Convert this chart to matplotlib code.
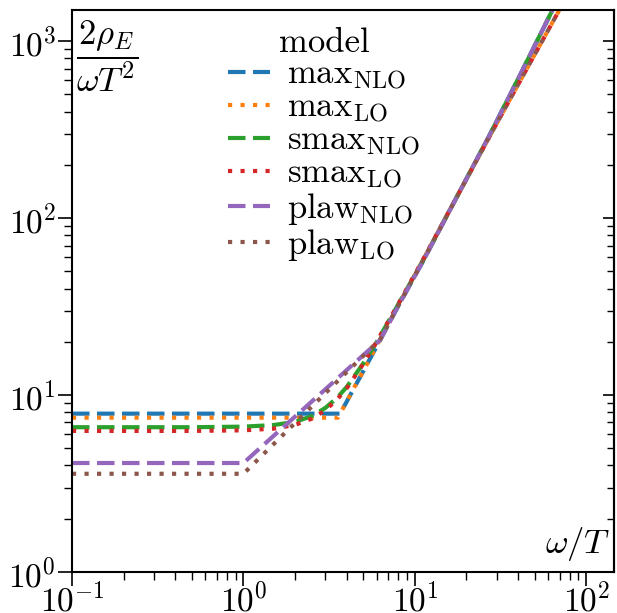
import matplotlib
matplotlib.use("Agg")
import matplotlib.pyplot as plt

plt.rcParams['font.family'] = ['cmr10', 'DejaVu Serif']
plt.rcParams['mathtext.fontset'] = 'cm'
plt.rcParams['axes.formatter.use_mathtext'] = True
plt.rcParams['axes.unicode_minus'] = True

# ---- data ----
omega_max_nlo = [0.1, 3.66, 4, 5, 6, 8, 11.2, 16, 27.4, 40, 63.7, 100]
rho_max_nlo = [7.85, 7.85, 9.17, 13.65, 18.9, 31.9, 57.5, 111, 297, 612, 1510, 3640]

omega_max_lo = [0.1, 3.56, 4, 5, 6, 8, 11.2, 16, 27.4, 40, 63.7, 100]
rho_max_lo = [7.45, 7.45, 9.2, 13.7, 19.1, 32.1, 58.4, 111.4, 292, 569, 1285, 2830]

omega_smax = [0.1, 0.5, 1, 1.5, 2, 2.5, 3, 3.5, 4, 5, 6, 8, 11.2, 16, 27.4, 40, 63.7, 100]
rho_smax_nlo = [6.58, 6.58, 6.63, 6.77, 7.05, 7.6, 8.45, 9.6, 11.1, 15.1, 20.0, 32.6, 57.9, 111.2, 297, 612, 1510, 3640]
rho_smax_lo = [6.27, 6.27, 6.32, 6.46, 6.78, 7.35, 8.2, 9.4, 10.9, 15.0, 20.1, 32.7, 58.7, 111.6, 292, 569, 1285, 2830]

omega_plaw = [0.1, 1, 6.28, 8, 11.2, 16, 27.4, 40, 63.7, 100]
rho_plaw_nlo = [4.13, 4.13, 20.5, 31.9, 57.5, 111, 297, 612, 1510, 3640]
rho_plaw_lo = [3.59, 3.59, 20.7, 32.1, 58.4, 111.4, 292, 569, 1285, 2830]

labels = [r'$\mathrm{max}_\mathrm{NLO}$', r'$\mathrm{max}_\mathrm{LO}$',
          r'$\mathrm{smax}_\mathrm{NLO}$', r'$\mathrm{smax}_\mathrm{LO}$',
          r'$\mathrm{plaw}_\mathrm{NLO}$', r'$\mathrm{plaw}_\mathrm{LO}$']
colors = ['#1f77b4', '#ff7f0e', '#2ca02c', '#d62728', '#9467bd', '#8c564b']

series = [(omega_max_nlo, rho_max_nlo), (omega_max_lo, rho_max_lo),
          (omega_smax, rho_smax_nlo), (omega_smax, rho_smax_lo),
          (omega_plaw, rho_plaw_nlo), (omega_plaw, rho_plaw_lo)]

fig = plt.figure(figsize=(6.17, 6.13), dpi=100)
ax = fig.add_axes([72/617, 41/613, 542/617, 562/613])

dash = (0, (4.2, 1.8))
dot = (0, (1, 2))
for i, ((x, y), lab, c) in enumerate(zip(series, labels, colors)):
    ls = dash if i % 2 == 0 else dot
    ax.plot(x, y, color=c, lw=3, linestyle=ls, label=lab)

ax.set_xscale('log')
ax.set_yscale('log')
ax.set_xlim(0.1, 145)
ax.set_ylim(1, 1500)

fs = 25
tfs = 24
ax.tick_params(axis='both', which='major', labelsize=tfs, length=10, width=1.2,
               direction='out', pad=1.5)
ax.tick_params(axis='both', which='minor', length=6, width=1.0, direction='out')
ax.tick_params(axis='x', which='major', pad=-3)
for s in ax.spines.values():
    s.set_linewidth(1.5)

sec = ax.secondary_yaxis('right')
sec.tick_params(which='major', direction='in', length=8, width=1.2, labelright=False)
sec.tick_params(which='minor', direction='in', length=5, width=1.0, labelright=False)
sec.spines['right'].set_linewidth(1.5)
sec.set_yticklabels([])
sec.yaxis.set_minor_formatter(matplotlib.ticker.NullFormatter())

ax.text(0.008, 0.985, r'$\dfrac{2\rho_E}{\omega T^2}$', transform=ax.transAxes,
        ha='left', va='top', fontsize=fs)
ax.text(0.994, 0.016, r'$\omega/T$', transform=ax.transAxes,
        ha='right', va='bottom', fontsize=fs)

leg = ax.legend(title='model', loc='upper left', bbox_to_anchor=(0.243, 1.012),
                frameon=False, fontsize=fs, title_fontsize=fs,
                handlelength=1.2, handletextpad=0.5, labelspacing=0.0,
                borderpad=0.2)

fig.savefig('out.png', dpi=100)
